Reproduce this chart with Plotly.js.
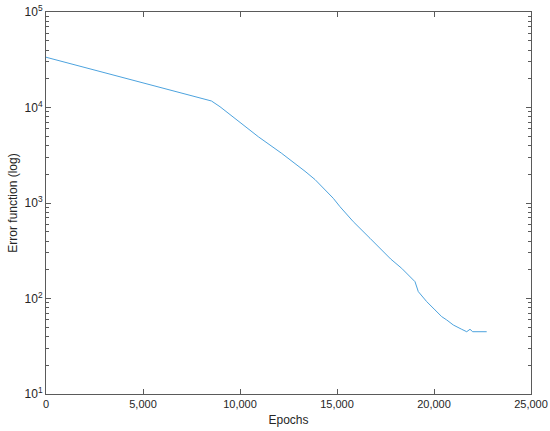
<!DOCTYPE html>
<html>
<head>
<meta charset="utf-8">
<script src="https://cdn.plot.ly/plotly-3.0.1.min.js"></script>
<style>html,body{margin:0;padding:0;background:#fff;}#chart{width:550px;height:431px;}</style>
</head>
<body>
<div id="chart"></div>
<script>
// Data
const epochs = [0, 8530, 8969, 9397, 10428, 10943, 12149, 12835, 13351, 13866, 14809, 15155, 15840, 16701, 17216, 17768, 18335, 18505, 19021, 19191, 19624, 20052, 20397, 20655, 20995, 21428, 21686, 21856, 21995, 22165, 22716];
const errorValues = [33600, 11700, 10190, 8690, 6050, 4945, 3310, 2605, 2150, 1760, 1120, 914, 637, 427, 336, 259, 207, 191, 150, 118, 92.7, 75.9, 64.6, 59.6, 52.8, 47.6, 44.9, 47.6, 44.9, 44.9, 44.9];

const xTickVals = [0, 5000, 10000, 15000, 20000, 25000];
const yTickVals = [10, 100, 1000, 10000, 100000];
const yTickText = ['10<sup>1</sup>', '10<sup>2</sup>', '10<sup>3</sup>', '10<sup>4</sup>', '10<sup>5</sup>'];
const yMinorVals = [];
[10, 100, 1000, 10000].forEach(d => { for (let k = 2; k <= 9; k++) yMinorVals.push(d * k); });

const axisColor = '#5a5a5a';
const trace = {
  x: epochs, y: errorValues, type: 'scatter', mode: 'lines',
  line: {color: '#4da3de', width: 1}, hoverinfo: 'skip'
};
const layout = {
  width: 550, height: 431,
  margin: {l: 46, r: 19, t: 12, b: 37},
  paper_bgcolor: '#fff', plot_bgcolor: '#fff',
  showlegend: false,
  font: {family: 'Liberation Sans, Arial, sans-serif', size: 11, color: '#262626'},
  xaxis: {
    range: [0, 25000], tickmode: 'array', tickvals: xTickVals, tickformat: ',d',
    ticks: 'inside', ticklen: 5, tickcolor: axisColor, tickwidth: 1,
    showline: true, linecolor: axisColor, linewidth: 1, mirror: 'ticks',
    showgrid: false, zeroline: false,
    title: {text: 'Epochs', font: {size: 12}, standoff: 6}
  },
  yaxis: {
    type: 'log', range: [1, 5], tickmode: 'array', tickvals: yTickVals, ticktext: yTickText,
    tickfont: {size: 12},
    ticks: 'inside', ticklen: 5, tickcolor: axisColor, tickwidth: 1,
    showline: true, linecolor: axisColor, linewidth: 1, mirror: 'ticks',
    showgrid: false, zeroline: false,
    minor: {tickmode: 'array', tickvals: yMinorVals, ticks: 'inside', ticklen: 3, tickcolor: axisColor, showgrid: false},
    title: {text: 'Error function (log)', font: {size: 12}, standoff: 4}
  }
};
Plotly.newPlot('chart', [trace], layout, {displayModeBar: false, staticPlot: true});
</script>
</body>
</html>
